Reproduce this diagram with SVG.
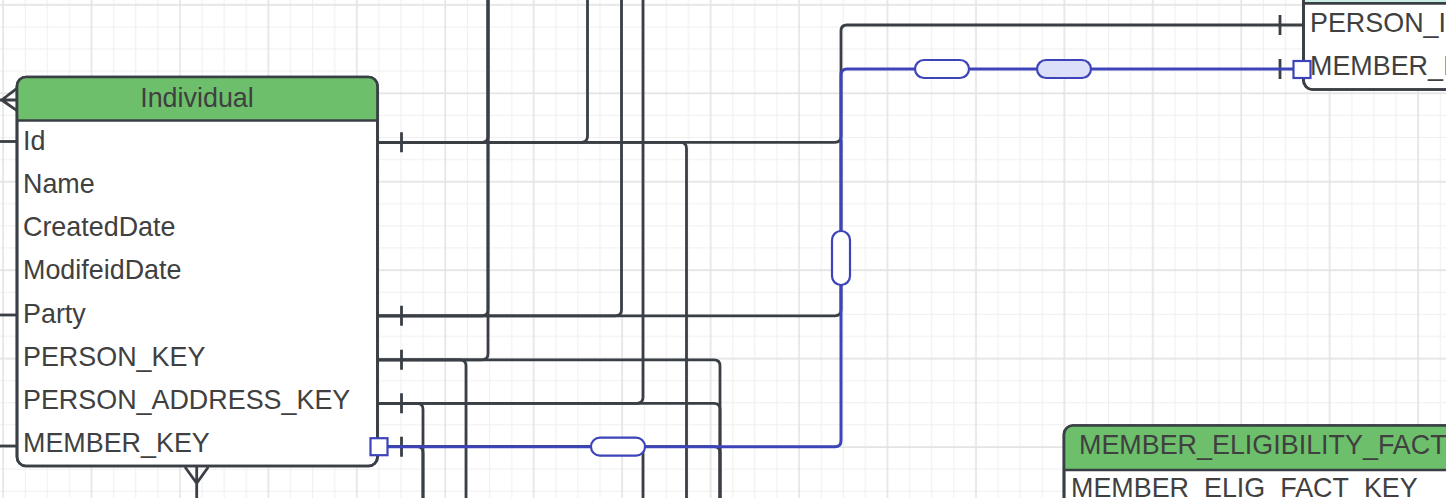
<svg xmlns="http://www.w3.org/2000/svg" width="1446" height="498" viewBox="0 0 1446 498">
<defs>
<pattern id="grid" patternUnits="userSpaceOnUse" x="-7.95" y="-6.15" width="88.44" height="88.44">
<g stroke="#efefef" stroke-width="1">
<line x1="33.16" y1="0" x2="33.16" y2="88.44"/><line x1="55.27" y1="0" x2="55.27" y2="88.44"/><line x1="77.38" y1="0" x2="77.38" y2="88.44"/>
<line x1="0" y1="33.16" x2="88.44" y2="33.16"/><line x1="0" y1="55.27" x2="88.44" y2="55.27"/><line x1="0" y1="77.38" x2="88.44" y2="77.38"/>
</g>
<g stroke="#e3e3e3" stroke-width="1.6">
<line x1="11.05" y1="0" x2="11.05" y2="88.44"/><line x1="0" y1="11.05" x2="88.44" y2="11.05"/>
</g>
</pattern>
<style>
.tbl{fill:#ffffff;stroke:#3a3f46;stroke-width:2.7}
.hdr{fill:#6dbf6b}
.hdr2{fill:#cbeee4}
.sep{stroke:#3a3f46;stroke-width:2.7;fill:none}
.t{font-family:"Liberation Sans",Arial,sans-serif;font-size:26.9px;fill:#404040}
.c{fill:none;stroke:#3a3f46;stroke-width:2.8;stroke-linejoin:round}
.b{fill:none;stroke:#3d44b9;stroke-width:3;stroke-linejoin:round}
.pill{fill:#ffffff;stroke:#3d44b9;stroke-width:2.2}
.pillf{fill:#dcdff8;stroke:#3d44b9;stroke-width:2.2}
.sq{fill:#ffffff;stroke:#3d44b9;stroke-width:2.2}
</style>
</defs>
<rect x="0" y="0" width="1446" height="498" fill="#ffffff"/>
<rect x="0" y="0" width="1446" height="498" fill="url(#grid)"/>

<g id="node-individual">
<rect class="tbl" x="17" y="77" width="360.5" height="389" rx="9"/>
<path class="hdr" d="M17,120.5 V86 Q17,77 26,77 H368.5 Q377.5,77 377.5,86 V120.5 Z"/>
<line class="sep" x1="17" y1="120.5" x2="377.5" y2="120.5"/>
<rect x="17" y="77" width="360.5" height="389" rx="9" fill="none" stroke="#3a3f46" stroke-width="2.7"/>
<text class="t" x="197" y="106.5" text-anchor="middle">Individual</text>
<text class="t" x="23" y="149.7">Id</text>
<text class="t" x="23" y="192.9">Name</text>
<text class="t" x="23" y="236.1">CreatedDate</text>
<text class="t" x="23" y="279.3">ModifeidDate</text>
<text class="t" x="23" y="322.5">Party</text>
<text class="t" x="23" y="365.7">PERSON_KEY</text>
<text class="t" x="23" y="408.9">PERSON_ADDRESS_KEY</text>
<text class="t" x="23" y="452.1">MEMBER_KEY</text>
</g>

<g id="node-person-member">
<rect class="tbl" x="1303.5" y="-60" width="300" height="149.5" rx="9"/>
<rect class="hdr2" x="1304.8" y="-58" width="297" height="61.3"/>
<line class="sep" x1="1303.5" y1="3.3" x2="1446" y2="3.3"/>
<rect x="1303.5" y="-60" width="300" height="149.5" rx="9" fill="none" stroke="#3a3f46" stroke-width="2.7"/>
<text class="t" x="1310" y="31.5">PERSON_I</text>
<text class="t" x="1310" y="74.8">MEMBER_I</text>
</g>

<g id="node-member-eligibility-fact">
<rect class="tbl" x="1064" y="425.5" width="500" height="200" rx="9"/>
<path class="hdr" d="M1064,470 V434.5 Q1064,425.5 1073,425.5 H1564 V470 Z"/>
<line class="sep" x1="1064" y1="470" x2="1446" y2="470"/>
<rect x="1064" y="425.5" width="500" height="200" rx="9" fill="none" stroke="#3a3f46" stroke-width="2.7"/>
<text class="t" x="1079" y="454">MEMBER_ELIGIBILITY_FACT</text>
<text class="t" x="1071" y="497.3">MEMBER_ELIG_FACT_KEY</text>
</g>

<g id="connectors">
<path class="c" d="M0,100 H17 M1.7,100 L17,88.3 M1.7,100 L17,110.7"/>
<path class="c" d="M0,141.5 H17"/>
<path class="c" d="M0,315 H17"/>
<path class="c" d="M0,446 H17"/>
<path class="c" d="M196.7,498 V467 M196.7,483.3 L185,467 M196.7,483.3 L208.3,467"/>
<path class="c" d="M378,142.3 H482 Q488,142.3 488,136.3 V0"/>
<path class="c" d="M378,142.3 H581.5 Q587.5,142.3 587.5,136.3 V0"/>
<path class="c" d="M378,142.3 H835 Q841,142.3 841,136.3 V31 Q841,25 847,25 H1303.5"/>
<path class="c" d="M378,142.3 H680.5 Q686.5,142.3 686.5,148.3 V498"/>
<path class="c" d="M378,315.8 H482 Q488,315.8 488,309.8 V0"/>
<path class="c" d="M378,315.8 H615.5 Q621.5,315.8 621.5,309.8 V0"/>
<path class="c" d="M378,315.8 H835 Q841,315.8 841,309.8 V140"/>
<path class="c" d="M378,359.8 H482 Q488,359.8 488,353.8 V0"/>
<path class="c" d="M378,359.8 H460 Q466,359.8 466,365.8 V498"/>
<path class="c" d="M378,359.8 H714 Q720,359.8 720,365.8 V498"/>
<path class="c" d="M378,403.3 H637 Q643,403.3 643,397.3 V0"/>
<path class="c" d="M378,403.3 H417 Q423,403.3 423,409.3 V498"/>
<path class="c" d="M378,403.3 H714 Q720,403.3 720,409.3 V498"/>
<path class="c" d="M378,446.7 H417 Q423,446.7 423,452.7 V498"/>
<path class="c" d="M378,446.7 H637 Q643,446.7 643,452.7 V498"/>
<path class="c" d="M378,446.7 H714 Q720,446.7 720,452.7 V498"/>
<path class="c" d="M401.5,132.3 V152.3 M401.5,305.8 V325.8 M401.5,349.8 V369.8 M401.5,393.3 V413.3 M401.5,436.7 V456.7"/>
<path class="c" d="M1280,15 V35 M1280,59 V79"/>
<path class="b" d="M388,446.7 H835 Q841,446.7 841,440.7 V75 Q841,69 847,69 H1293.5"/>
<rect class="pill" x="591" y="437.7" width="54" height="18" rx="9"/>
<rect class="pill" x="832" y="231" width="18" height="54" rx="9"/>
<rect class="pill" x="915" y="60" width="54" height="18" rx="9"/>
<rect class="pillf" x="1037" y="60" width="54" height="18" rx="9"/>
<rect class="sq" x="370.5" y="438.2" width="17" height="17"/>
<rect class="sq" x="1293.5" y="61" width="17" height="17"/>
</g>
</svg>
